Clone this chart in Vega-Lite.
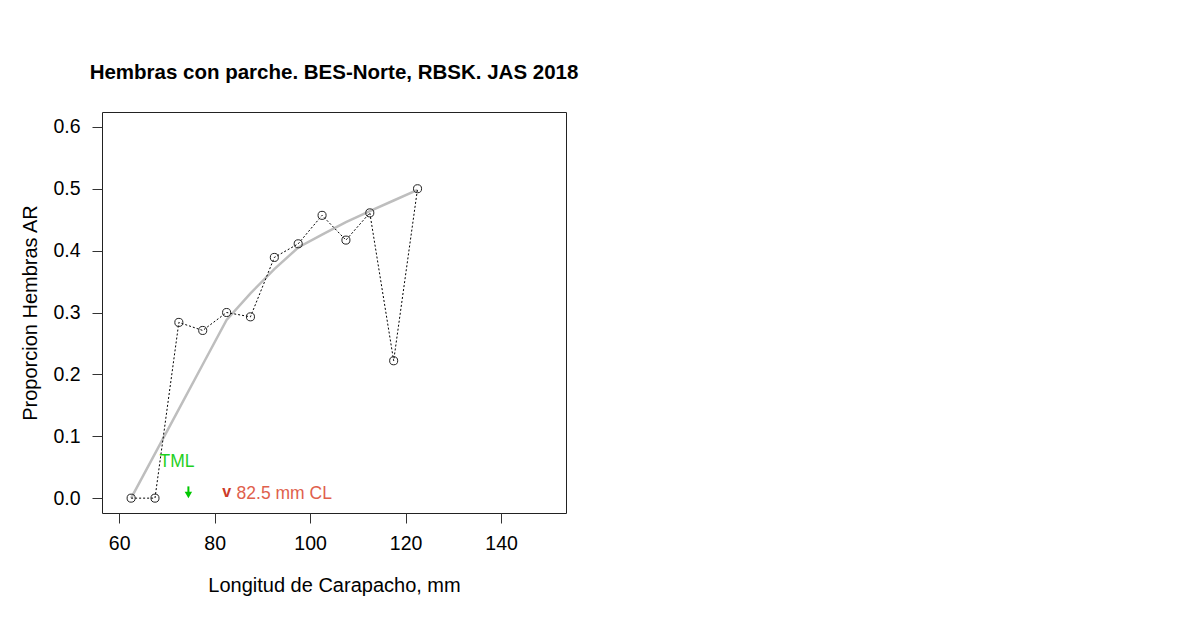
{
  "$schema": "https://vega.github.io/schema/vega-lite/v6.json",
  "autosize": {"type": "none"},
  "padding": {"left": 102, "top": 112, "right": 634, "bottom": 106},
  "width": 464,
  "height": 401,
  "background": "white",
  "title": {
    "text": "Hembras con parche. BES-Norte, RBSK. JAS 2018",
    "font": "Liberation Sans",
    "fontSize": 20.5,
    "fontWeight": "bold",
    "color": "black",
    "anchor": "middle",
    "baseline": "alphabetic",
    "offset": 13
  },
  "config": {
    "view": {"stroke": "#222222", "strokeWidth": 1},
    "axis": {
      "domain": false,
      "grid": false,
      "ticks": true,
      "tickSize": 10,
      "tickColor": "#333333",
      "labelFont": "Liberation Sans",
      "labelFontSize": 19.5,
      "labelColor": "black",
      "titleFont": "Liberation Sans",
      "titleFontSize": 20,
      "titleFontWeight": "normal",
      "titleColor": "black"
    }
  },
  "datasets": {
    "obs": [
      {"cl": 62.5, "p": 0.0},
      {"cl": 67.5, "p": 0.0},
      {"cl": 72.5, "p": 0.284},
      {"cl": 77.5, "p": 0.271},
      {"cl": 82.5, "p": 0.3},
      {"cl": 87.5, "p": 0.293},
      {"cl": 92.5, "p": 0.389},
      {"cl": 97.5, "p": 0.411},
      {"cl": 102.5, "p": 0.457},
      {"cl": 107.5, "p": 0.417},
      {"cl": 112.5, "p": 0.461},
      {"cl": 117.5, "p": 0.222},
      {"cl": 122.5, "p": 0.5}
    ],
    "fit": [
      {"cl": 62.5, "p": 0.0},
      {"cl": 67.5, "p": 0.072},
      {"cl": 72.5, "p": 0.144},
      {"cl": 77.5, "p": 0.216},
      {"cl": 82.5, "p": 0.288},
      {"cl": 87.5, "p": 0.331},
      {"cl": 92.5, "p": 0.37},
      {"cl": 97.5, "p": 0.405},
      {"cl": 102.5, "p": 0.426},
      {"cl": 107.5, "p": 0.446},
      {"cl": 112.5, "p": 0.464},
      {"cl": 117.5, "p": 0.481},
      {"cl": 122.5, "p": 0.498}
    ]
  },
  "encoding": {
    "x": {
      "field": "cl",
      "type": "quantitative",
      "scale": {"domain": [56.4, 153.6], "nice": false, "zero": false},
      "axis": {
        "values": [60, 80, 100, 120, 140],
        "labelPadding": 11,
        "titlePadding": 23,
        "title": "Longitud de Carapacho, mm"
      }
    },
    "y": {
      "field": "p",
      "type": "quantitative",
      "scale": {"domain": [-0.024, 0.624], "nice": false, "zero": false},
      "axis": {
        "values": [0, 0.1, 0.2, 0.3, 0.4, 0.5, 0.6],
        "format": ".1f",
        "labelPadding": 12,
        "titlePadding": 12,
        "title": "Proporcion Hembras AR"
      }
    }
  },
  "layer": [
    {
      "data": {"name": "fit"},
      "mark": {"type": "line", "color": "#bebebe", "strokeWidth": 2.5}
    },
    {
      "data": {"name": "obs"},
      "mark": {"type": "line", "color": "black", "strokeWidth": 1, "strokeDash": [2, 2]}
    },
    {
      "data": {"name": "obs"},
      "mark": {"type": "point", "shape": "circle", "filled": false, "stroke": "#222222", "strokeWidth": 1, "size": 65, "opacity": 1}
    },
    {
      "data": {"values": [{"cl": 72.1, "p": 0.058, "label": "TML"}]},
      "mark": {"type": "text", "font": "Liberation Sans", "fontSize": 17.5, "color": "#1fd01f", "align": "center", "baseline": "middle"},
      "encoding": {"text": {"field": "label"}}
    },
    {
      "data": {"values": [{"cl": 74.5, "p": 0.019, "p2": 0.006}]},
      "mark": {"type": "rule", "color": "#00c800", "strokeWidth": 2},
      "encoding": {"y2": {"field": "p2"}}
    },
    {
      "data": {"values": [{"cl": 74.5, "p": 0.005}]},
      "mark": {"type": "point", "shape": "triangle-down", "filled": true, "color": "#00c800", "size": 55, "opacity": 1}
    },
    {
      "data": {"values": [{"cl": 82.5, "p": 0.01, "label": "v"}]},
      "mark": {"type": "text", "font": "Liberation Sans", "fontSize": 16, "fontWeight": "bold", "color": "#cc3a28", "align": "center", "baseline": "middle"},
      "encoding": {"text": {"field": "label"}}
    },
    {
      "data": {"values": [{"cl": 84.6, "p": 0.006, "label": "82.5 mm CL"}]},
      "mark": {"type": "text", "font": "Liberation Sans", "fontSize": 17.5, "color": "#e0604c", "align": "left", "baseline": "middle"},
      "encoding": {"text": {"field": "label"}}
    }
  ]
}
